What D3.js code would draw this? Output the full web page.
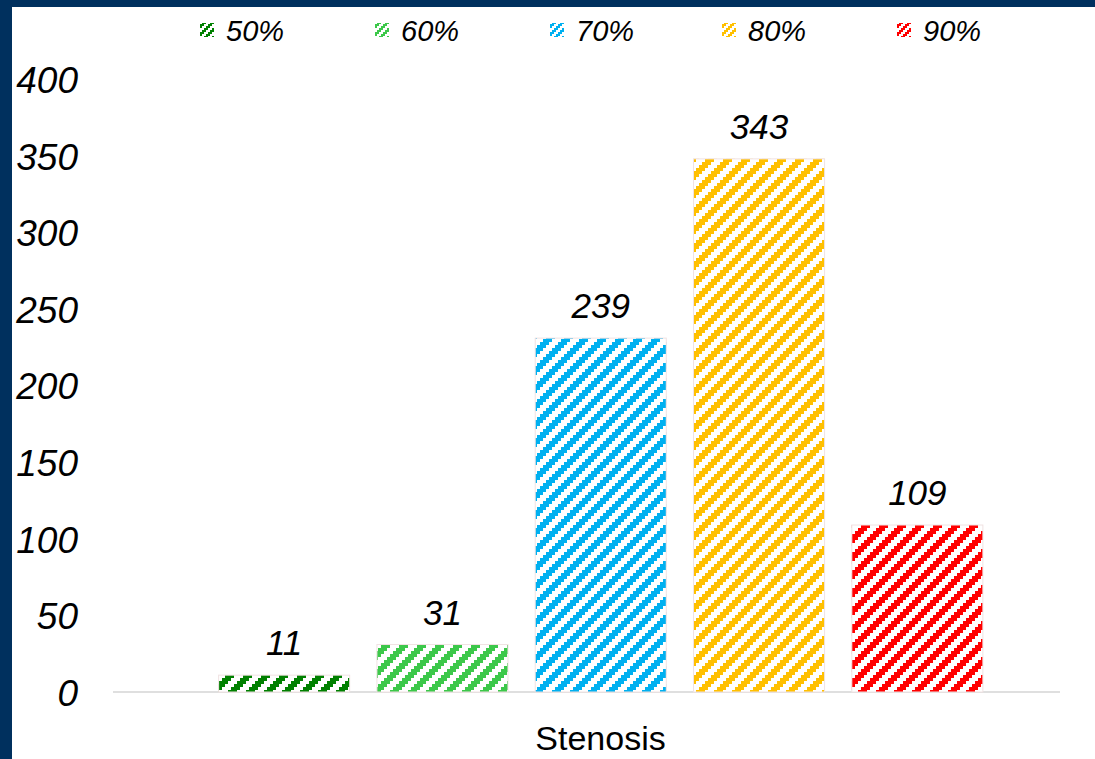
<!DOCTYPE html>
<html><head><meta charset="utf-8">
<script src="https://cdn.jsdelivr.net/npm/d3@7"></script>
<style>html,body{margin:0;padding:0;background:#fff;}svg{display:block;}</style>
</head><body>
<script>
const categories = ["Stenosis"];
const series = ["50%", "60%", "70%", "80%", "90%"];
const values = [11, 31, 231, 348, 109];
const labels = ["11", "31", "239", "343", "109"];
const colors = ["#008000", "#3cc84a", "#00b0f0", "#ffc000", "#ff0000"];
const yTicks = [0, 50, 100, 150, 200, 250, 300, 350, 400];

const W = 1095, H = 759;
const svg = d3.select("body").append("svg").attr("width", W).attr("height", H);
svg.append("rect").attr("width", W).attr("height", H).attr("fill", "#00305e");
svg.append("rect").attr("x", 12).attr("y", 7).attr("width", W - 12).attr("height", H - 7).attr("fill", "#fff");

const defs = svg.append("defs");
function makePattern(id, color, cell, n) {
  const p = defs.append("pattern").attr("id", id).attr("patternUnits", "userSpaceOnUse")
    .attr("width", n * cell).attr("height", n * cell);
  p.append("rect").attr("width", n * cell).attr("height", n * cell).attr("fill", "#fff");
  for (let j = 0; j < n; j++) for (let i = 0; i < n; i++) {
    if ((i + j) % n < n / 2) p.append("rect").attr("x", i * cell).attr("y", j * cell)
      .attr("width", cell).attr("height", cell).attr("fill", color);
  }
}
series.forEach((s, k) => { makePattern("pb" + k, colors[k], 3, 6); makePattern("pl" + k, colors[k], 2, 4); });

const y = d3.scaleLinear().domain([0, 400]).range([692, 79.2]);
const x0 = d3.scaleBand().domain(categories).range([113, 1088]);
const x1 = d3.scaleBand().domain(series).range([205, 996.5]).paddingInner(0.172).paddingOuter(0.086);

// baseline axis
svg.append("line").attr("x1", 113).attr("x2", 1060).attr("y1", y(0)).attr("y2", y(0))
  .attr("stroke", "#d4d4d4").attr("stroke-width", 1.5);

// y tick labels
const yAxis = d3.axisLeft(y).tickValues(yTicks).tickSize(0).tickPadding(0);
const ga = svg.append("g").attr("transform", "translate(78,0)").call(yAxis);
ga.select(".domain").remove();
ga.selectAll("text").attr("font-family", "Liberation Sans, Arial, sans-serif")
  .attr("font-style", "italic").attr("font-size", 37).attr("fill", "#000").attr("dy", "0.36em");

// bars
svg.selectAll("rect.bar").data(series).join("rect").attr("class", "bar")
  .attr("x", d => x1(d)).attr("width", x1.bandwidth())
  .attr("y", (d, i) => y(values[i])).attr("height", (d, i) => y(0) - y(values[i]))
  .attr("fill", (d, i) => `url(#pb${i})`).attr("stroke", "#f0e2e2").attr("stroke-width", 1);

// data labels
svg.selectAll("text.lbl").data(series).join("text").attr("class", "lbl")
  .attr("x", d => x1(d) + x1.bandwidth() / 2).attr("y", (d, i) => y(values[i]) - 20)
  .attr("text-anchor", "middle").attr("font-family", "Liberation Sans, Arial, sans-serif")
  .attr("font-style", "italic").attr("font-size", 35).attr("fill", "#000")
  .text((d, i) => labels[i]);

// category label
svg.append("text").attr("x", x0(categories[0]) + x0.bandwidth() / 2).attr("y", 750)
  .attr("text-anchor", "middle").attr("font-family", "Liberation Sans, Arial, sans-serif")
  .attr("font-size", 34).attr("fill", "#000").text(categories[0]);

// legend
const legX = [200, 375, 550, 722, 897];
const lg = svg.selectAll("g.leg").data(series).join("g").attr("class", "leg")
  .attr("transform", (d, i) => `translate(${legX[i]},0)`);
lg.append("rect").attr("x", 0).attr("y", 23).attr("width", 14).attr("height", 14)
  .attr("fill", (d, i) => `url(#pl${i})`);
lg.append("text").attr("x", 26).attr("y", 41).attr("font-family", "Liberation Sans, Arial, sans-serif")
  .attr("font-style", "italic").attr("font-size", 29).attr("fill", "#000").text(d => d);
</script>
</body></html>
